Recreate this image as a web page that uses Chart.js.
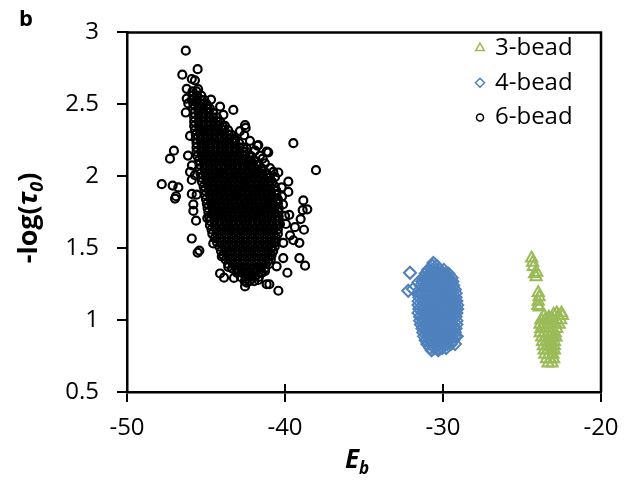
<!DOCTYPE html>
<html>
<head>
<meta charset="utf-8">
<script src="https://cdn.jsdelivr.net/npm/chart.js@4.4.1/dist/chart.umd.min.js"></script>
<style>
  html, body { margin: 0; padding: 0; background: #fff; }
  #wrap { width: 640px; height: 481px; }
</style>
</head>
<body>
<div id="wrap"><canvas id="myChart" width="640" height="481"></canvas></div>
<script>
// series names
const seriesNames = ['3-bead', '4-bead', '6-bead'];
const xTicks = [-50, -40, -30, -20];
const yTicks = [0.5, 1, 1.5, 2, 2.5, 3];

// 3-bead points [E_b, -log(tau0)]
const bead3 = [
  [-24.39, 1.43], [-24.33, 1.40], [-24.28, 1.37], [-24.2, 1.32], [-24.07, 1.33], [-24.11, 1.30],
  [-23.97, 1.19], [-23.92, 1.16], [-23.97, 1.13], [-23.9, 1.09], [-24.0, 1.10],
  [-22.5, 1.05], [-22.8, 1.05], [-23.0, 1.04],
  [-22.45, 1.03], [-22.7, 1.03], [-23.6, 1.03], [-23.3, 1.02],
  [-23.8, 1.0], [-23.55, 1.0], [-23.3, 1.0], [-23.05, 1.0], [-22.8, 1.0], [-22.55, 1.0],
  [-23.85, 0.97], [-23.6, 0.97], [-23.35, 0.97], [-23.1, 0.97], [-22.85, 0.97], [-22.65, 0.97],
  [-23.8, 0.94], [-23.55, 0.94], [-23.3, 0.94], [-23.05, 0.94], [-22.8, 0.94],
  [-23.85, 0.91], [-23.6, 0.91], [-23.35, 0.91], [-23.1, 0.91], [-22.9, 0.91],
  [-23.75, 0.88], [-23.5, 0.88], [-23.25, 0.88], [-23.0, 0.88], [-22.85, 0.88],
  [-23.7, 0.85], [-23.45, 0.85], [-23.2, 0.85], [-22.95, 0.85],
  [-23.65, 0.82], [-23.4, 0.82], [-23.15, 0.82], [-22.95, 0.82],
  [-23.6, 0.79], [-23.35, 0.79], [-23.1, 0.79], [-22.95, 0.79],
  [-23.55, 0.76], [-23.3, 0.76], [-23.05, 0.76],
  [-23.45, 0.73], [-23.2, 0.73], [-23.0, 0.73],
  [-23.35, 0.70], [-23.1, 0.70]
];

// 4-bead: dense cloud, one row per -log(tau0) level
const bead4Rows = [
  [1.376, [-30.65, -30.4]],
  [1.349, [-30.95, -30.7, -30.45, -30.2, -29.95]],
  [1.322, [-31.1, -30.85, -30.6, -30.35, -30.1, -29.85, -29.65]],
  [1.295, [-31.25, -31.0, -30.75, -30.5, -30.25, -30.0, -29.75, -29.45]],
  [1.268, [-31.3, -31.05, -30.8, -30.55, -30.3, -30.05, -29.8, -29.55, -29.4]],
  [1.24, [-31.4, -31.15, -30.9, -30.65, -30.4, -30.15, -29.9, -29.65, -29.35]],
  [1.213, [-31.45, -31.2, -30.95, -30.7, -30.45, -30.2, -29.95, -29.7, -29.45, -29.25]],
  [1.186, [-31.5, -31.25, -31.0, -30.75, -30.5, -30.25, -30.0, -29.75, -29.5, -29.2]],
  [1.159, [-31.5, -31.25, -31.0, -30.75, -30.5, -30.25, -30.0, -29.75, -29.5, -29.2]],
  [1.132, [-31.55, -31.3, -31.05, -30.8, -30.55, -30.3, -30.05, -29.8, -29.55, -29.3, -29.15]],
  [1.105, [-31.55, -31.3, -31.05, -30.8, -30.55, -30.3, -30.05, -29.8, -29.55, -29.3, -29.1]],
  [1.077, [-31.5, -31.25, -31.0, -30.75, -30.5, -30.25, -30.0, -29.75, -29.5, -29.25, -29.1]],
  [1.05, [-31.55, -31.3, -31.05, -30.8, -30.55, -30.3, -30.05, -29.8, -29.55, -29.3, -29.15]],
  [1.023, [-31.45, -31.2, -30.95, -30.7, -30.45, -30.2, -29.95, -29.7, -29.45, -29.2]],
  [0.996, [-31.45, -31.2, -30.95, -30.7, -30.45, -30.2, -29.95, -29.7, -29.45, -29.15]],
  [0.969, [-31.4, -31.15, -30.9, -30.65, -30.4, -30.15, -29.9, -29.65, -29.4, -29.15]],
  [0.942, [-31.3, -31.05, -30.8, -30.55, -30.3, -30.05, -29.8, -29.55, -29.3, -29.2]],
  [0.914, [-31.25, -31.0, -30.75, -30.5, -30.25, -30.0, -29.75, -29.5, -29.25]],
  [0.887, [-31.2, -30.95, -30.7, -30.45, -30.2, -29.95, -29.7, -29.45, -29.25, -29.13]],
  [0.86, [-31.1, -30.85, -30.6, -30.35, -30.1, -29.85, -29.6, -29.35]],
  [0.833, [-31.0, -30.75, -30.5, -30.25, -30.0, -29.75, -29.5, -29.24]],
  [0.806, [-30.8, -30.55, -30.3, -30.05, -29.8]],
  [0.79, [-30.72, -30.3]]
];
const bead4Extra = [
  [-32.09, 1.329], [-31.56, 1.261], [-32.2, 1.204], [-31.9, 1.215], [-30.61, 1.397]
];

// 6-bead: dense core, one row per -log(tau0) level
const bead6Rows = [
  [2.59, [-45.85, -45.6]],
  [2.56, [-45.85, -45.55, -45.3]],
  [2.53, [-45.9, -45.6, -45.3, -45.1]],
  [2.50, [-45.8, -45.5, -45.2, -44.95]],
  [2.47, [-45.8, -45.5, -45.2, -44.9, -44.75]],
  [2.44, [-45.75, -45.45, -45.15, -44.85, -44.55]],
  [2.41, [-45.75, -45.45, -45.15, -44.85, -44.55, -44.3]],
  [2.38, [-45.75, -45.45, -45.15, -44.85, -44.55, -44.25, -44.1]],
  [2.35, [-45.75, -45.45, -45.15, -44.85, -44.55, -44.25, -43.95, -43.8]],
  [2.32, [-45.7, -45.4, -45.1, -44.8, -44.5, -44.2, -43.9, -43.6]],
  [2.29, [-45.65, -45.35, -45.05, -44.75, -44.45, -44.15, -43.85, -43.55, -43.4]],
  [2.26, [-45.65, -45.35, -45.05, -44.75, -44.45, -44.15, -43.85, -43.55, -43.25, -43.15]],
  [2.23, [-45.6, -45.3, -45.0, -44.7, -44.4, -44.1, -43.8, -43.5, -43.2, -42.9]],
  [2.20, [-45.6, -45.3, -45.0, -44.7, -44.4, -44.1, -43.8, -43.5, -43.2, -42.9, -42.65]],
  [2.17, [-45.6, -45.3, -45.0, -44.7, -44.4, -44.1, -43.8, -43.5, -43.2, -42.9, -42.6, -42.45]],
  [2.14, [-45.55, -45.25, -44.95, -44.65, -44.35, -44.05, -43.75, -43.45, -43.15, -42.85, -42.55, -42.25, -42.15]],
  [2.11, [-45.45, -45.15, -44.85, -44.55, -44.25, -43.95, -43.65, -43.35, -43.05, -42.75, -42.45, -42.15, -41.95]],
  [2.08, [-45.4, -45.1, -44.8, -44.5, -44.2, -43.9, -43.6, -43.3, -43.0, -42.7, -42.4, -42.1, -41.8, -41.65]],
  [2.05, [-45.4, -45.1, -44.8, -44.5, -44.2, -43.9, -43.6, -43.3, -43.0, -42.7, -42.4, -42.1, -41.8, -41.5, -41.4]],
  [2.02, [-45.35, -45.05, -44.75, -44.45, -44.15, -43.85, -43.55, -43.25, -42.95, -42.65, -42.35, -42.05, -41.75, -41.45, -41.15]],
  [1.99, [-45.3, -45.0, -44.7, -44.4, -44.1, -43.8, -43.5, -43.2, -42.9, -42.6, -42.3, -42.0, -41.7, -41.4, -41.1, -40.95]],
  [1.96, [-45.25, -44.95, -44.65, -44.35, -44.05, -43.75, -43.45, -43.15, -42.85, -42.55, -42.25, -41.95, -41.65, -41.35, -41.05, -40.8]],
  [1.93, [-45.15, -44.85, -44.55, -44.25, -43.95, -43.65, -43.35, -43.05, -42.75, -42.45, -42.15, -41.85, -41.55, -41.25, -40.95, -40.65]],
  [1.90, [-45.1, -44.8, -44.5, -44.2, -43.9, -43.6, -43.3, -43.0, -42.7, -42.4, -42.1, -41.8, -41.5, -41.2, -40.9, -40.6, -40.55]],
  [1.87, [-45.05, -44.75, -44.45, -44.15, -43.85, -43.55, -43.25, -42.95, -42.65, -42.35, -42.05, -41.75, -41.45, -41.15, -40.85, -40.55]],
  [1.84, [-45.0, -44.7, -44.4, -44.1, -43.8, -43.5, -43.2, -42.9, -42.6, -42.3, -42.0, -41.7, -41.4, -41.1, -40.8, -40.5, -40.45]],
  [1.81, [-44.95, -44.65, -44.35, -44.05, -43.75, -43.45, -43.15, -42.85, -42.55, -42.25, -41.95, -41.65, -41.35, -41.05, -40.75, -40.45]],
  [1.78, [-44.9, -44.6, -44.3, -44.0, -43.7, -43.4, -43.1, -42.8, -42.5, -42.2, -41.9, -41.6, -41.3, -41.0, -40.7, -40.4]],
  [1.75, [-44.85, -44.55, -44.25, -43.95, -43.65, -43.35, -43.05, -42.75, -42.45, -42.15, -41.85, -41.55, -41.25, -40.95, -40.65, -40.4]],
  [1.72, [-44.8, -44.5, -44.2, -43.9, -43.6, -43.3, -43.0, -42.7, -42.4, -42.1, -41.8, -41.5, -41.2, -40.9, -40.6, -40.4]],
  [1.69, [-44.75, -44.45, -44.15, -43.85, -43.55, -43.25, -42.95, -42.65, -42.35, -42.05, -41.75, -41.45, -41.15, -40.85, -40.55, -40.4]],
  [1.66, [-44.75, -44.45, -44.15, -43.85, -43.55, -43.25, -42.95, -42.65, -42.35, -42.05, -41.75, -41.45, -41.15, -40.85, -40.55, -40.45]],
  [1.63, [-44.65, -44.35, -44.05, -43.75, -43.45, -43.15, -42.85, -42.55, -42.25, -41.95, -41.65, -41.35, -41.05, -40.75, -40.45]],
  [1.60, [-44.6, -44.3, -44.0, -43.7, -43.4, -43.1, -42.8, -42.5, -42.2, -41.9, -41.6, -41.3, -41.0, -40.7, -40.45]],
  [1.57, [-44.45, -44.15, -43.85, -43.55, -43.25, -42.95, -42.65, -42.35, -42.05, -41.75, -41.45, -41.15, -40.85, -40.55]],
  [1.54, [-44.3, -44.0, -43.7, -43.4, -43.1, -42.8, -42.5, -42.2, -41.9, -41.6, -41.3, -41.0, -40.7, -40.6]],
  [1.51, [-44.15, -43.85, -43.55, -43.25, -42.95, -42.65, -42.35, -42.05, -41.75, -41.45, -41.15, -40.85, -40.65]],
  [1.48, [-44.05, -43.75, -43.45, -43.15, -42.85, -42.55, -42.25, -41.95, -41.65, -41.35, -41.05, -40.75]],
  [1.45, [-43.9, -43.6, -43.3, -43.0, -42.7, -42.4, -42.1, -41.8, -41.5, -41.2, -40.9, -40.85]],
  [1.42, [-43.75, -43.45, -43.15, -42.85, -42.55, -42.25, -41.95, -41.65, -41.35, -41.05, -40.9]],
  [1.39, [-43.6, -43.3, -43.0, -42.7, -42.4, -42.1, -41.8, -41.5, -41.2, -41.0]],
  [1.36, [-43.35, -43.05, -42.75, -42.45, -42.15, -41.85, -41.55, -41.25]],
  [1.33, [-43.05, -42.75, -42.45, -42.15, -41.85, -41.55, -41.45]],
  [1.30, [-42.8, -42.5, -42.2, -41.9, -41.65]],
  [1.27, [-42.55, -42.25, -41.95]]
];
// 6-bead: scattered circles around the core
const bead6Extra = [
  [-46.28, 2.873], [-45.53, 2.744], [-46.5, 2.706], [-45.9, 2.676], [-45.7, 2.667], [-46.22, 2.608],
  [-45.5, 2.606], [-46.22, 2.54], [-46.12, 2.506], [-46.28, 2.443], [-44.68, 2.533], [-44.11, 2.484],
  [-43.27, 2.461], [-43.9, 2.427], [-42.53, 2.355], [-42.49, 2.336], [-42.58, 2.285], [-41.75, 2.212],
  [-42.42, 2.19], [-47.03, 2.178], [-47.28, 2.122], [-46.01, 2.03], [-45.9, 1.974], [-47.8, 1.945],
  [-47.11, 1.935], [-46.75, 1.922], [-46.9, 1.861], [-45.9, 1.877], [-45.59, 1.872], [-41.06, 2.166],
  [-41.41, 2.122], [-43.9, 2.325], [-43.16, 2.246], [-41.69, 2.217], [-41.16, 2.171], [-39.47, 2.23],
  [-38.04, 2.042], [-40.74, 2.03], [-40.42, 2.026], [-39.79, 1.963], [-39.79, 1.891], [-38.84, 1.832],
  [-40.21, 1.922], [-46.96, 1.845], [-45.8, 1.804], [-45.8, 1.759], [-45.63, 1.691], [-44.92, 1.709],
  [-45.9, 1.567], [-45.42, 1.483], [-45.53, 1.469], [-44.0, 1.442], [-43.59, 1.37], [-44.11, 1.324],
  [-43.86, 1.295], [-43.23, 1.293], [-42.42, 1.261], [-42.53, 1.234], [-41.69, 1.279], [-42.22, 1.329],
  [-42.96, 1.351], [-41.16, 1.249], [-44.54, 1.533], [-38.59, 1.77], [-38.88, 1.764], [-39.01, 1.702],
  [-39.37, 1.646], [-38.8, 1.628], [-39.73, 1.732], [-39.94, 1.668], [-39.47, 1.555], [-39.09, 1.537],
  [-40.11, 1.537], [-40.11, 1.431], [-39.09, 1.431], [-38.73, 1.378], [-39.85, 1.329], [-40.99, 1.249],
  [-40.42, 1.204], [-40.0, 1.725], [-39.68, 1.589], [-40.53, 1.374], [-41.27, 1.34], [-40.32, 1.668],
  [-42.85, 2.314], [-42.22, 2.246], [-41.9, 2.178], [-41.58, 2.144], [-41.27, 2.09], [-40.95, 2.056],
  [-40.63, 1.995], [-40.82, 1.954], [-41.46, 2.008], [-42.22, 2.076], [-40.19, 1.859], [-40.13, 1.804],
  [-46.01, 2.28], [-46.14, 2.144], [-45.89, 2.076], [-45.7, 2.008]
];

const colors = ['#9BBB59', '#4F81BD', '#000000'];
const FONT = "'Open Sans', 'Liberation Sans', sans-serif";

function fromRows(rows) {
  const pts = [];
  rows.forEach(([y, xs]) => xs.forEach(x => pts.push({ x: x, y: y })));
  return pts;
}
function fromPairs(pairs) {
  return pairs.map(([x, y]) => ({ x: x, y: y }));
}

function drawMarker(ctx, style, x, y, r) {
  ctx.beginPath();
  if (style === 'triangle') {
    const h = r * 1.5;
    const e = r * Math.sqrt(3);
    ctx.moveTo(x, y - r);
    ctx.lineTo(x + e / 2, y - r + h);
    ctx.lineTo(x - e / 2, y - r + h);
    ctx.closePath();
  } else if (style === 'rectRot') {
    ctx.moveTo(x, y - r);
    ctx.lineTo(x + r, y);
    ctx.lineTo(x, y + r);
    ctx.lineTo(x - r, y);
    ctx.closePath();
  } else {
    ctx.arc(x, y, r, 0, Math.PI * 2);
  }
  ctx.stroke();
}

// frame, inner x ticks, axis titles, legend, panel letter
const decor = {
  id: 'decor',
  afterDraw(chart) {
    const { ctx, chartArea: a } = chart;
    ctx.save();
    ctx.strokeStyle = '#000';
    ctx.lineWidth = 2.5;
    ctx.beginPath();
    ctx.moveTo(a.left, a.top);
    ctx.lineTo(a.right, a.top);
    ctx.lineTo(a.right, a.bottom);
    ctx.stroke();

    const xs = chart.scales.x;
    ctx.lineWidth = 2;
    xTicks.forEach(v => {
      const px = xs.getPixelForValue(v);
      ctx.beginPath();
      ctx.moveTo(px, a.bottom - 8);
      ctx.lineTo(px, a.bottom);
      ctx.stroke();
    });

    ctx.fillStyle = '#000';
    ctx.textBaseline = 'alphabetic';

    // y title: -log(τ0)
    const ySeg = [
      { t: '-log(', f: 'bold 27px ' + FONT, dy: 0 },
      { t: 'τ', f: 'italic bold 27px ' + FONT, dy: 0 },
      { t: '0', f: 'italic bold 18px ' + FONT, dy: 6 },
      { t: ')', f: 'bold 27px ' + FONT, dy: 0 }
    ];
    let tot = 0;
    ySeg.forEach(s => { ctx.font = s.f; s.w = ctx.measureText(s.t).width; tot += s.w; });
    ctx.save();
    ctx.translate(37, 218);
    ctx.rotate(-Math.PI / 2);
    let cx = -tot / 2;
    ySeg.forEach(s => { ctx.font = s.f; ctx.fillText(s.t, cx, s.dy); cx += s.w; });
    ctx.restore();

    // x title: E_b
    const xSeg = [
      { t: 'E', f: 'italic bold 26px ' + FONT, dy: 0 },
      { t: 'b', f: 'italic bold 17px ' + FONT, dy: 6 }
    ];
    tot = 0;
    xSeg.forEach(s => { ctx.font = s.f; s.w = ctx.measureText(s.t).width; tot += s.w; });
    cx = 357 - tot / 2;
    xSeg.forEach(s => { ctx.font = s.f; ctx.fillText(s.t, cx, 468 + s.dy); cx += s.w; });

    // panel letter
    ctx.font = 'bold 22px ' + FONT;
    ctx.fillText('b', 19, 26);

    // legend
    const markR = [5, 4.5, 3.5];
    chart.data.datasets.forEach((ds, i) => {
      const ly = 48 + i * 34.7;
      ctx.strokeStyle = ds.borderColor;
      ctx.lineWidth = 1.5;
      drawMarker(ctx, ds.pointStyle, 480, ly, markR[i]);
      ctx.fillStyle = '#000';
      ctx.font = '24px ' + FONT;
      ctx.textBaseline = 'middle';
      ctx.fillText(ds.label, 495, ly);
    });
    ctx.restore();
  }
};

function makeChart() {
  const ctx = document.getElementById('myChart');
  const myChart = new Chart(ctx, {
    type: 'scatter',
    data: {
      datasets: [{
        label: seriesNames[0],
        data: fromPairs(bead3),
        pointStyle: 'triangle',
        pointRadius: 6.5,
        borderWidth: 2,
        borderColor: colors[0],
        backgroundColor: 'rgba(0,0,0,0)'
      }, {
        label: seriesNames[1],
        data: fromRows(bead4Rows).concat(fromPairs(bead4Extra)),
        pointStyle: 'rectRot',
        pointRadius: 6,
        borderWidth: 2,
        borderColor: colors[1],
        backgroundColor: 'rgba(0,0,0,0)'
      }, {
        label: seriesNames[2],
        data: fromRows(bead6Rows).concat(fromPairs(bead6Extra)),
        pointStyle: 'circle',
        pointRadius: 4,
        borderWidth: 2.2,
        borderColor: colors[2],
        backgroundColor: 'rgba(0,0,0,0)'
      }]
    },
    options: {
      responsive: false,
      animation: false,
      layout: { padding: { top: 24, right: 39, bottom: 0, left: 0 } },
      plugins: {
        legend: { display: false },
        tooltip: { enabled: false }
      },
      scales: {
        x: {
          type: 'linear',
          min: xTicks[0],
          max: xTicks[xTicks.length - 1],
          afterBuildTicks: s => { s.ticks = xTicks.map(v => ({ value: v })); },
          afterFit: s => { s.height = 89; },
          ticks: { color: '#000', font: { family: FONT, size: 24 }, padding: 12, callback: v => String(v) },
          grid: { drawOnChartArea: false, color: '#000', lineWidth: 2, tickLength: 10 },
          border: { color: '#000', width: 2.5 }
        },
        y: {
          min: yTicks[0],
          max: yTicks[yTicks.length - 1],
          afterBuildTicks: s => { s.ticks = yTicks.map(v => ({ value: v })); },
          afterFit: s => { s.width = 127; },
          ticks: { color: '#000', font: { family: FONT, size: 24 }, padding: 18, callback: v => String(v) },
          grid: { drawOnChartArea: false, color: '#000', lineWidth: 2, tickLength: 10 },
          border: { color: '#000', width: 2.5 }
        }
      }
    },
    plugins: [decor]
  });
  return myChart;
}

document.addEventListener('DOMContentLoaded', function() {
  makeChart();
});
</script>
</body>
</html>
